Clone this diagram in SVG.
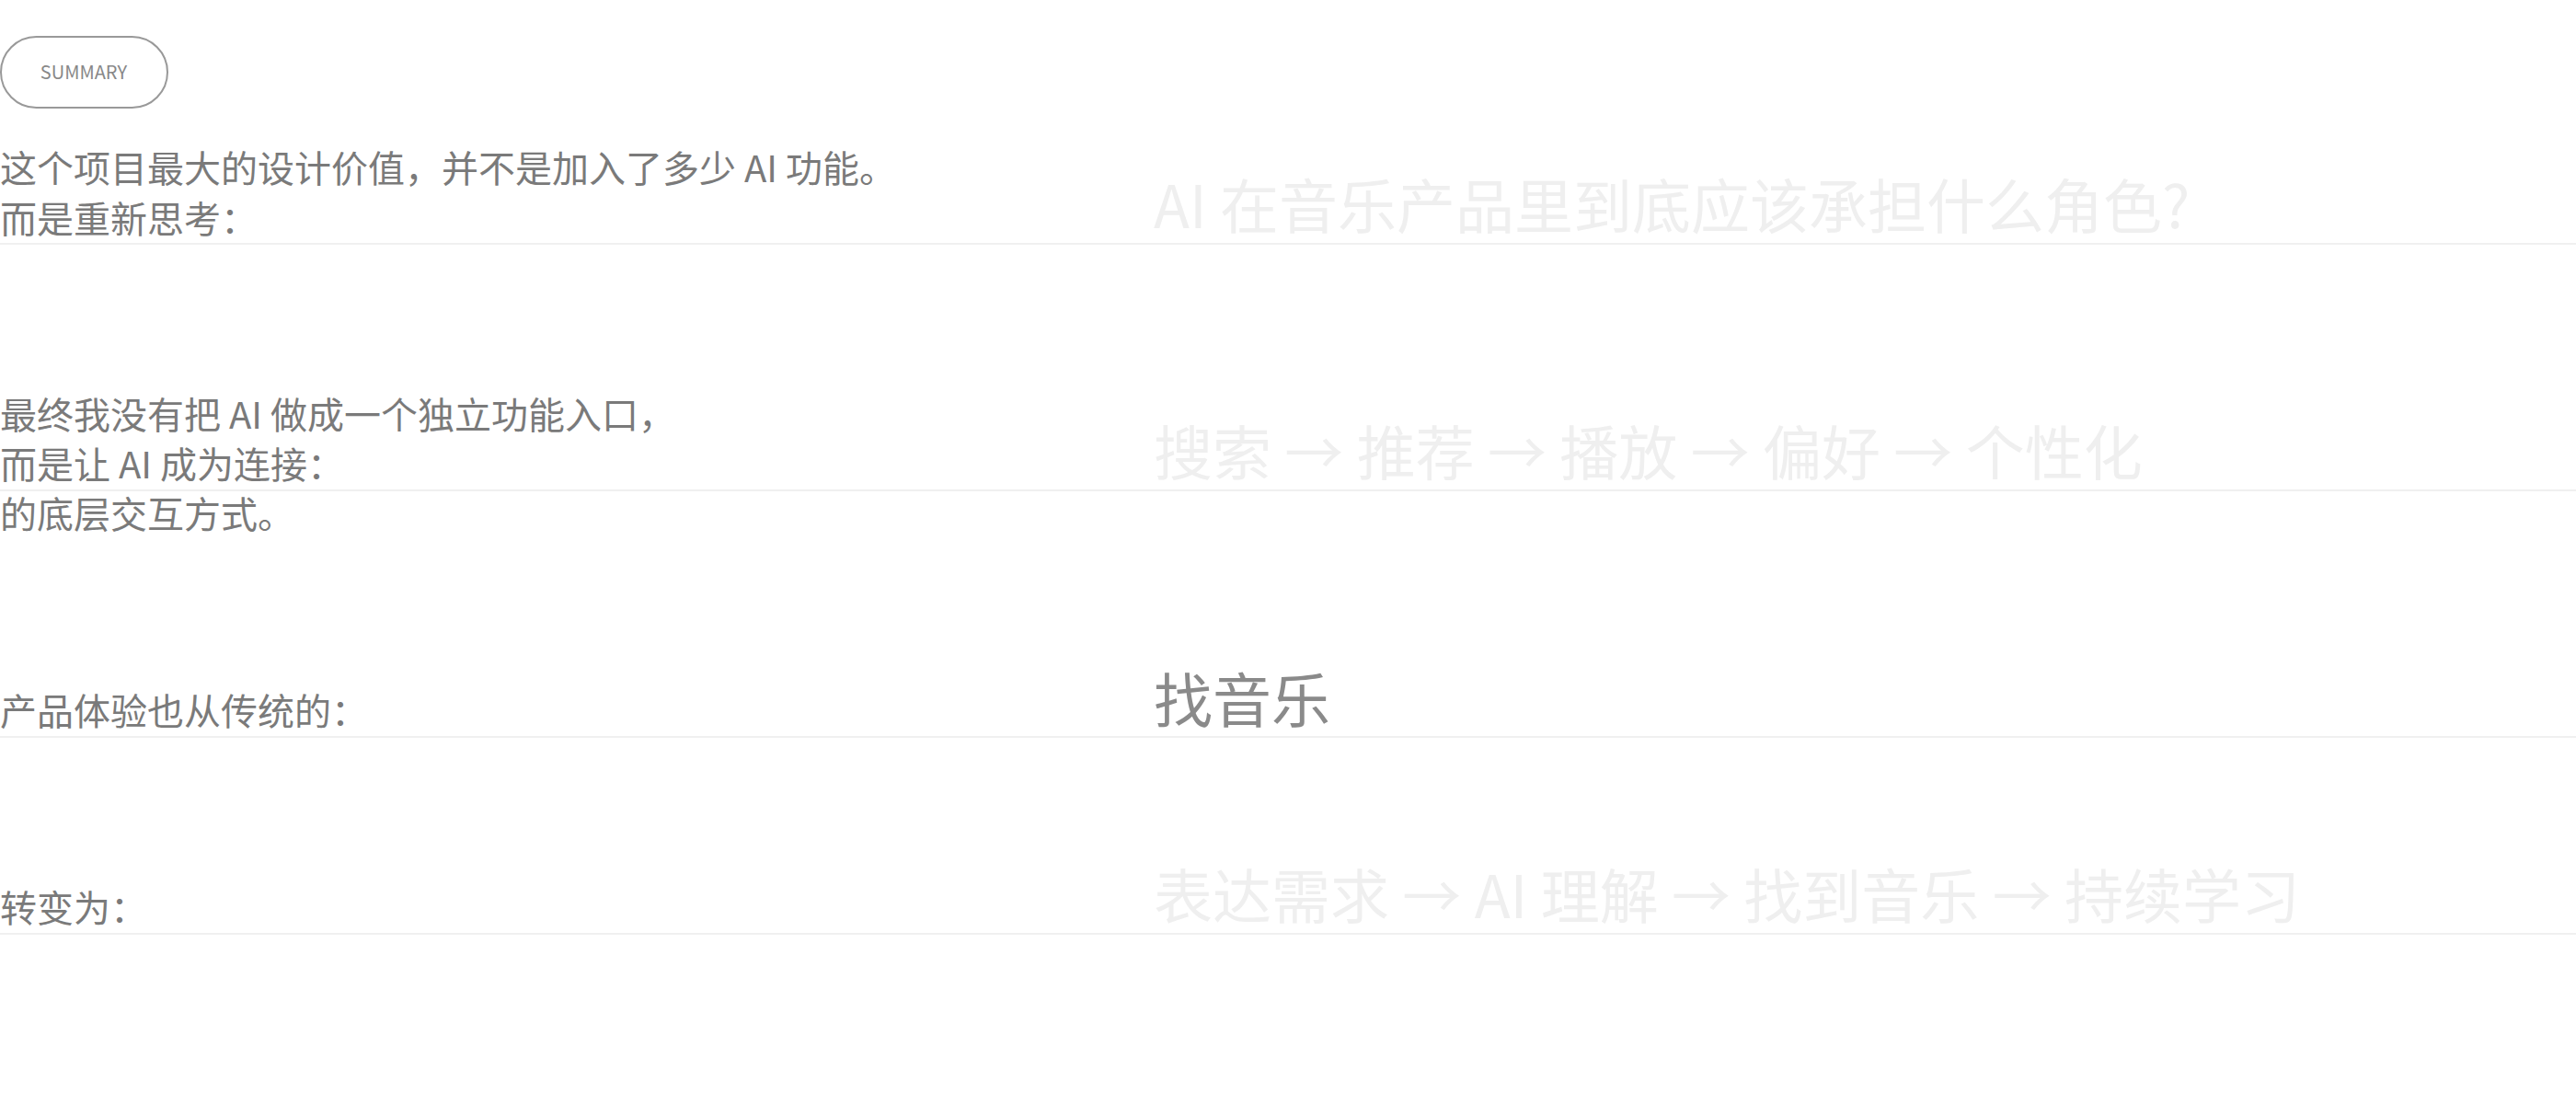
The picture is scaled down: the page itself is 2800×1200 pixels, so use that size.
<svg xmlns="http://www.w3.org/2000/svg" width="2800" height="1200" viewBox="0 0 2800 1200">
<style>
text{font-family:"Noto Sans CJK SC","Noto Sans",sans-serif}
.l{font-size:40px;fill:#7a7a7a}
.r{font-size:64px;fill:#efefef}
.h{fill:#8a8a8a}
.sep{stroke:#f0f0f0;stroke-width:2}
</style>
<rect width="2800" height="1200" fill="#fff"/>
<g id="summary">
<rect x="1" y="40" width="181" height="77" rx="38.5" fill="none" stroke="#999" stroke-width="2"/>
<text x="91" y="86" font-size="20" fill="#888" text-anchor="middle">SUMMARY</text>
</g>
<g id="row1">
<text class="l" x="0" y="198">这个项目最大的设计价值，并不是加入了多少 AI 功能。</text>
<text class="l" x="0" y="253">而是重新思考：</text>
<text class="r" x="1254" y="248">AI 在音乐产品里到底应该承担什么角色?</text>
<line class="sep" x1="0" y1="265" x2="2800" y2="265"/>
</g>
<g id="row2">
<text class="l" x="0" y="466">最终我没有把 AI 做成一个独立功能入口，</text>
<text class="l" x="0" y="520">而是让 AI 成为连接：</text>
<text class="l" x="0" y="574">的底层交互方式。</text>
<text class="r" x="1254" y="516">搜索 → 推荐 → 播放 → 偏好 → 个性化</text>
<line class="sep" x1="0" y1="533" x2="2800" y2="533"/>
</g>
<g id="row3">
<text class="l" x="0" y="788">产品体验也从传统的：</text>
<text class="r h" x="1254" y="785">找音乐</text>
<line class="sep" x1="0" y1="801" x2="2800" y2="801"/>
</g>
<g id="row4">
<text class="l" x="0" y="1002">转变为：</text>
<text class="r" x="1254" y="998">表达需求 → AI 理解 → 找到音乐 → 持续学习</text>
<line class="sep" x1="0" y1="1015" x2="2800" y2="1015"/>
</g>
<g id="connectors"/>
</svg>
